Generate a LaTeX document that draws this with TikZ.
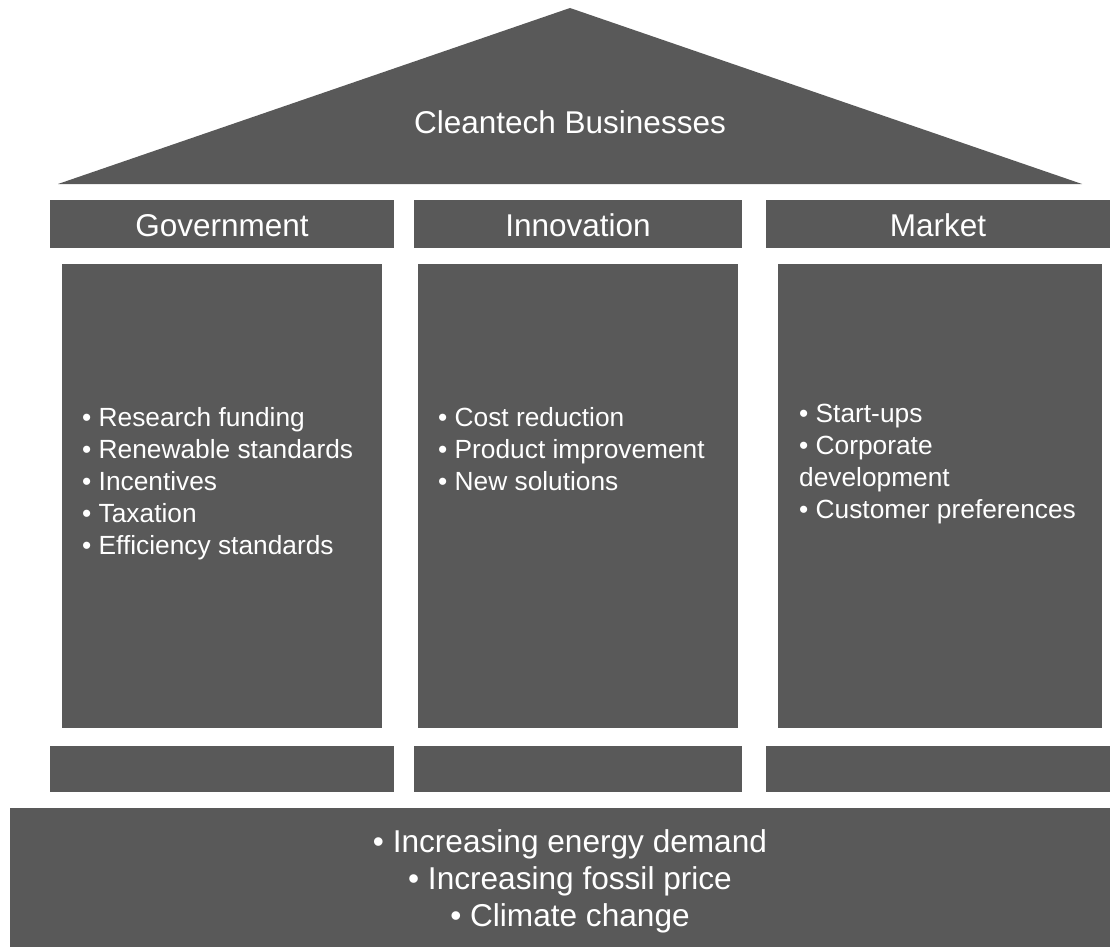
\documentclass[tikz,border=0pt]{standalone}
\usepackage{fontspec}
\setmainfont{Liberation Sans}
\usetikzlibrary{calc}
\definecolor{slate}{HTML}{595959}
\tikzset{
  pillartext/.style={text=white, inner sep=0pt, align=left, anchor=north west, font=\fontsize{26.3}{32}\selectfont},
  headtext/.style={text=white, inner sep=0pt, anchor=base, font=\fontsize{31.5}{36}\selectfont}
}
\begin{document}
\begin{tikzpicture}[x=1pt,y=-1pt]
\useasboundingbox (0,0) rectangle (1110,947);

% roof
\fill[slate] (58,184) -- (570,8) node (apex) {} -- (1082,184) -- cycle;
\node[headtext] (roof) at (570,133) {Cleantech Businesses};

% header bars
\fill[slate] (50,200) rectangle (394,248);
\fill[slate] (414,200) rectangle (742,248);
\fill[slate] (766,200) rectangle (1110,248);
\node[headtext] (gov) at (222,236) {Government};
\node[headtext] (inno) at (578,236) {Innovation};
\node[headtext] (mark) at (938,236) {Market};

% pillars
\fill[slate] (62,264) rectangle (382,728);
\fill[slate] (418,264) rectangle (738,728);
\fill[slate] (778,264) rectangle (1102,728);
\node[pillartext] (govlist) at (82,407) {• Research funding\\• Renewable standards\\• Incentives\\• Taxation\\• Efficiency standards};
\node[pillartext] (innolist) at (438,407) {• Cost reduction\\• Product improvement\\• New solutions};
\node[pillartext] (marklist) at (799,404) {• Start-ups\\• Corporate\\development\\• Customer preferences};

% base bars
\fill[slate] (50,746) rectangle (394,792);
\fill[slate] (414,746) rectangle (742,792);
\fill[slate] (766,746) rectangle (1110,792);

% foundation
\fill[slate] (10,808) rectangle (1110,947);
\node[headtext, anchor=north, align=center, font=\fontsize{31.6}{37}\selectfont] (drivers) at (570,829) {• Increasing energy demand\\• Increasing fossil price\\• Climate change};

\end{tikzpicture}
\end{document}
